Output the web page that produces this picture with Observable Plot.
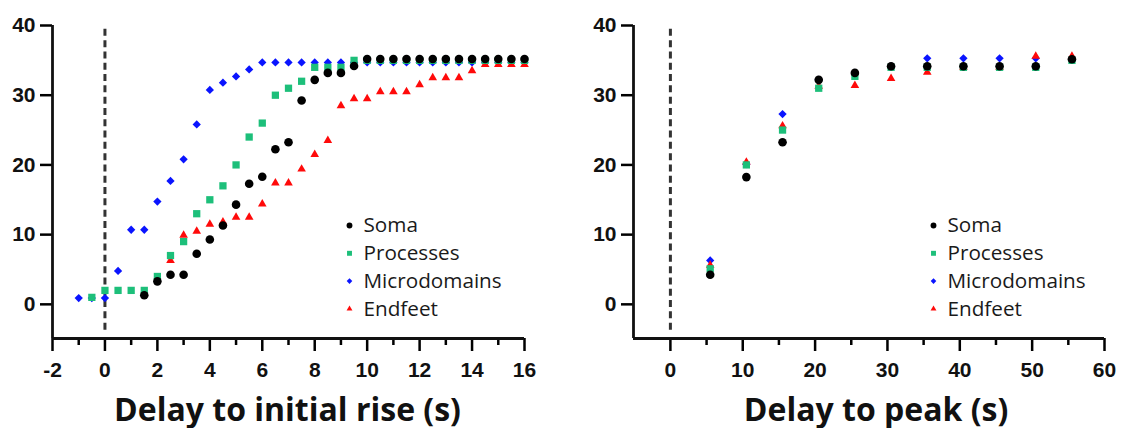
<!DOCTYPE html>
<html><head><meta charset="utf-8">
<script src="https://cdn.jsdelivr.net/npm/d3@7"></script>
<script src="https://cdn.jsdelivr.net/npm/@observablehq/plot@0.6"></script>
<style>
body{margin:0;background:#fff;}
#row{display:flex;width:1126px;height:428px;overflow:hidden;}
#row svg{overflow:visible;}
</style></head><body><div id="row"></div>
<script>
// ---- series ----
const seriesNames = ["Soma", "Processes", "Microdomains", "Endfeet"];
const seriesColors = ["#000000", "#1dbf7a", "#0a14ff", "#ff0a0a"];

// ---- left panel: delay to initial rise ----
const riseSomaX = [1.5,2,2.5,3,3.5,4,4.5,5,5.5,6,6.5,7,7.5,8,8.5,9,9.5,10,10.5,11,11.5,12,12.5,13,13.5,14,14.5,15,15.5,16];
const riseSomaY = [1.3,3.3,4.25,4.25,7.25,9.3,11.3,14.3,17.3,18.3,22.25,23.25,29.25,32.2,33.2,33.2,34.2,35.2,35.2,35.2,35.2,35.2,35.2,35.2,35.2,35.2,35.2,35.2,35.2,35.2];
const riseProcX = [-0.5,0,0.5,1,1.5,2,2.5,3,3.5,4,4.5,5,5.5,6,6.5,7,7.5,8,8.5,9,9.5,10,10.5,11,11.5,12,12.5,13,13.5,14,14.5,15,15.5,16];
const riseProcY = [1,2,2,2,2,4,7,9,13,15,17,20,24,26,30,31,32,34,34,34,35,35,35,35,35,35,35,35,35,35,35,35,35,35];
const riseMicroX = [-1,-0.5,0,0.5,1,1.5,2,2.5,3,3.5,4,4.5,5,5.5,6,6.5,7,7.5,8,8.5,9,9.5,10,10.5,11,11.5,12,12.5,13,13.5,14,14.5,15,15.5,16];
const riseMicroY = [0.9,0.9,0.9,4.8,10.7,10.7,14.75,17.7,20.8,25.8,30.75,31.8,32.7,33.7,34.7,34.7,34.7,34.7,34.7,34.7,34.7,34.7,34.7,34.7,34.7,34.7,34.7,34.7,34.7,34.7,34.7,34.7,34.7,34.7,34.7];
const riseEndX = [2.5,3,3.5,4,4.5,5,5.5,6,6.5,7,7.5,8,8.5,9,9.5,10,10.5,11,11.5,12,12.5,13,13.5,14,14.5,15,15.5,16];
const riseEndY = [6.3,9.9,10.5,11.5,11.8,12.5,12.5,14.4,17.4,17.4,19.4,21.5,23.5,28.5,29.5,29.5,30.5,30.5,30.5,31.5,32.5,32.5,32.5,33.5,34.4,34.4,34.4,34.4];
const riseXDomain = [-2, 16];
const riseMajorTicks = [-2,0,2,4,6,8,10,12,14,16];
const riseMinorTicks = [-1,1,3,5,7,9,11,13,15];
const riseTitle = "Delay to initial rise (s)";

// ---- right panel: delay to peak ----
const peakX = [5.5,10.5,15.5,20.5,25.5,30.5,35.5,40.5,45.5,50.5,55.5];
const peakSomaY = [4.25,18.25,23.25,32.2,33.2,34.15,34.15,34.15,34.15,34.15,35.15];
const peakProcY = [5.1,20.0,25.0,31.0,32.7,34.0,34.0,34.0,34.0,34.0,35.0];
const peakMicroY = [6.3,20.1,27.3,32.2,33.2,34.15,35.3,35.3,35.3,35.3,35.2];
const peakEndY = [5.6,20.4,25.6,31.3,31.4,32.4,33.3,34.0,34.0,35.6,35.6];
const peakXDomain = [-5.1, 60];
const peakMajorTicks = [0,10,20,30,40,50,60];
const peakMinorTicks = [5,15,25,35,45,55];
const peakTitle = "Delay to peak (s)";

// ---- shared ----
const yDomain = [-4.9, 40];
const yTicks = [0,10,20,30,40];
const refLineX = [0];
const refLineY = [-3.7, 40];

const rows = (xs, ys, s) => xs.map((x, i) => ({x, y: ys[i], series: s}));

// marker styles
const sym = {
  Soma: {symbol: "circle", r: 4.3, rotate: 0},
  Processes: {symbol: "square", r: 4.1, rotate: 0},
  Microdomains: {symbol: "square", r: 3.3, rotate: 45},
  Endfeet: {symbol: "triangle", r: 3.2, rotate: 0}
};
const drawOrder = ["Microdomains", "Endfeet", "Processes", "Soma"];
const colorOf = s => seriesColors[seriesNames.indexOf(s)];

const tickFont = {fontSize: 21, fontWeight: "bold", fontFamily: "Liberation Sans, Arial, sans-serif"};
const textFont = "Open Sans, Lato, sans-serif";

function panel({width, marginLeft, marginRight, xDomain, major, minor, data, title, titleDx, legendDx}) {
  const marks = [];
  // reference dashed line
  marks.push(Plot.ruleX(refLineX, {y1: refLineY[0], y2: refLineY[1], stroke: "#333", strokeWidth: 3, strokeDasharray: "7,4.3"}));
  // data points
  for (const s of drawOrder) {
    const st = sym[s];
    marks.push(Plot.dot(data[s], {x: "x", y: "y", symbol: () => st.symbol, r: st.r, rotate: st.rotate, fill: colorOf(s), stroke: "none"}));
  }
  // axes
  marks.push(Plot.axisY({ticks: yTicks, tickSize: 12, tickPadding: 5, strokeWidth: 2.5, ...tickFont, fill: "#111", label: null, tickFormat: d => String(d)}));
  marks.push(Plot.axisX({ticks: major, tickSize: 13, tickPadding: 11, strokeWidth: 2.5, ...tickFont, fill: "#111", label: null, tickFormat: d => String(d)}));
  marks.push(Plot.axisX({ticks: minor, tickSize: 7, strokeWidth: 2.5, label: null, tickFormat: () => ""}));
  marks.push(Plot.ruleX([xDomain[0]], {stroke: "#111", strokeWidth: 2.8}));
  marks.push(Plot.ruleY([yDomain[0]], {stroke: "#111", strokeWidth: 2.8}));
  // axis title
  marks.push(Plot.text([title], {text: d => d, frameAnchor: "bottom", lineAnchor: "bottom", dy: 82, dx: titleDx, fontSize: 32, fontWeight: "bold", fontFamily: textFont, fill: "#111"}));
  // legend
  seriesNames.forEach((s, i) => {
    const st = sym[s];
    marks.push(Plot.dot([s], {frameAnchor: "top-left", dx: legendDx, dy: 200 + i * 27.8, symbol: () => st.symbol, r: st.r * 0.68, rotate: st.rotate, fill: colorOf(s), stroke: "none"}));
    marks.push(Plot.text([s], {text: d => d, frameAnchor: "top-left", dx: legendDx + 14, dy: 200 + i * 27.8, textAnchor: "start", lineAnchor: "middle", fontSize: 20.7, fontFamily: textFont, fill: "#1a1a1a"}));
  });
  return Plot.plot({
    width, height: 428,
    marginTop: 25, marginBottom: 90, marginLeft, marginRight,
    x: {domain: xDomain, axis: null},
    y: {domain: yDomain, axis: null},
    style: {background: "#fff", overflow: "visible"},
    marks
  });
}

const riseData = {
  Soma: rows(riseSomaX, riseSomaY, "Soma"),
  Processes: rows(riseProcX, riseProcY, "Processes"),
  Microdomains: rows(riseMicroX, riseMicroY, "Microdomains"),
  Endfeet: rows(riseEndX, riseEndY, "Endfeet")
};
const peakData = {
  Soma: rows(peakX, peakSomaY, "Soma"),
  Processes: rows(peakX, peakProcY, "Processes"),
  Microdomains: rows(peakX, peakMicroY, "Microdomains"),
  Endfeet: rows(peakX, peakEndY, "Endfeet")
};

const row = document.getElementById("row");
row.appendChild(panel({width: 563, marginLeft: 52, marginRight: 39, xDomain: riseXDomain, major: riseMajorTicks, minor: riseMinorTicks, data: riseData, title: riseTitle, titleDx: -1, legendDx: 297}));
row.appendChild(panel({width: 563, marginLeft: 70, marginRight: 22, xDomain: peakXDomain, major: peakMajorTicks, minor: peakMinorTicks, data: peakData, title: peakTitle, titleDx: 7, legendDx: 300}));
</script>
</body></html>
